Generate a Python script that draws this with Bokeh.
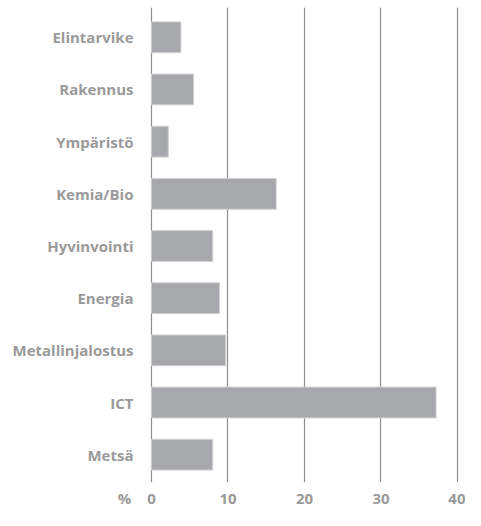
from bokeh.plotting import figure
from bokeh.models import Range1d, FixedTicker
from bokeh.embed import file_html
from bokeh.resources import INLINE

categories = ["Elintarvike", "Rakennus", "Ympäristö", "Kemia/Bio", "Hyvinvointi",
              "Energia", "Metallinjalostus", "ICT", "Metsä"]
values = [3.85, 5.5, 2.2, 16.3, 8.0, 8.9, 9.7, 37.2, 8.0]
x_ticks = [0, 10, 20, 30, 40]
unit_label = "%"
unit_pos = -3.53

n = len(categories)
ypos = [n - 1 - i for i in range(n)]

p = figure(width=465, height=510,
           x_range=Range1d(-19.74, 41.05), y_range=Range1d(-0.533, n - 1 + 0.571),
           output_backend="svg", toolbar_location=None,
           min_border_left=0, min_border_top=7, min_border_right=0,
           min_border_bottom=0)
p.outline_line_color = None
p.background_fill_color = "white"

p.hbar(y=ypos, right=values, left=0, height=0.59,
       fill_color="#a7a8ab", line_color="#d0d1d3", line_width=1)

p.ygrid.grid_line_color = None
p.xgrid.ticker = FixedTicker(ticks=x_ticks)
p.xgrid.grid_line_color = "#8f8f8f"
p.xgrid.grid_line_width = 1.2

font = "Open Sans"
label_color = "#9a9a9a"
fsize = "15px"

p.yaxis.ticker = FixedTicker(ticks=ypos)
p.yaxis.major_label_overrides = {y: c for y, c in zip(ypos, categories)}
p.yaxis.fixed_location = 0
p.xaxis.ticker = FixedTicker(ticks=[unit_pos] + x_ticks)
p.xaxis.major_label_overrides = {unit_pos: unit_label}
for ax in (p.xaxis[0], p.yaxis[0]):
    ax.axis_line_color = None
    ax.major_tick_line_color = None
    ax.minor_tick_line_color = None
    ax.major_tick_out = 0
    ax.major_tick_in = 0
    ax.major_label_text_font = font
    ax.major_label_text_font_style = "bold"
    ax.major_label_text_font_size = fsize
    ax.major_label_text_color = label_color
p.yaxis.major_label_standoff = 18
p.xaxis.major_label_standoff = 5

open("out.html", "w").write(file_html(p, INLINE))
